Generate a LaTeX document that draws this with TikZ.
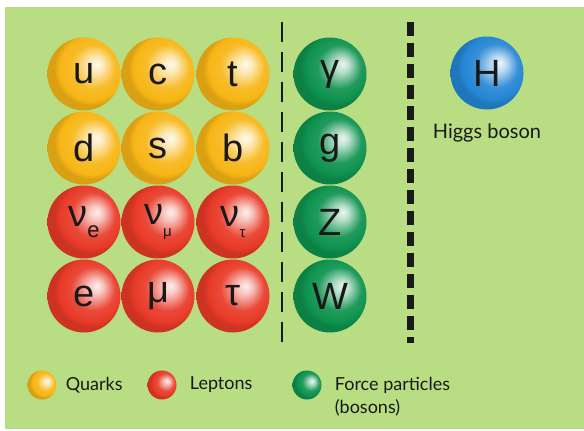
\documentclass[tikz,border=0pt]{standalone}
\usepackage{fontspec}
\setmainfont{Liberation Sans}
\newfontfamily\legendfont{Lato}
\usepackage{xcolor}
\usepackage{tikz}
\usetikzlibrary{positioning}
\definecolor{smGreenBg}{RGB}{185,221,130}
\definecolor{smQuark}{RGB}{247,182,22}
\definecolor{smLepton}{RGB}{232,58,40}
\definecolor{smForce}{RGB}{14,146,78}
\definecolor{smHiggs}{RGB}{36,134,212}
\definecolor{smInk}{RGB}{25,25,25}
\colorlet{ballc}{smQuark}
\pgfdeclareradialshading[ballc]{sphereshade}{\pgfpoint{9bp}{7bp}}{%
  color(0bp)=(ballc!8!white); color(5bp)=(ballc!30!white);
  color(15bp)=(ballc!92!white); color(22bp)=(ballc);
  color(25bp)=(ballc!88!black); color(50bp)=(ballc!88!black)}
\tikzset{
  sphere/.style={circle, inner sep=0pt, minimum size=73pt,
    /utils/exec={\colorlet{ballc}{#1}}, shading=sphereshade,
    text=smInk, font=\fontsize{38}{38}\selectfont},
  legball/.style={sphere=#1, minimum size=29pt},
  legtext/.style={text=smInk, inner sep=0pt, font=\legendfont\fontsize{18}{18}\selectfont},
}

\begin{document}
\begin{tikzpicture}[x=1pt,y=-1pt]
    \useasboundingbox (0,0) rectangle (584,431);
    \fill[white] (0,0) rectangle (584,431);
    \fill[smGreenBg] (5,7) rectangle (584,429);

    % quarks
    \node[sphere=smQuark] (u) at (84,74) {u};
    \node[sphere=smQuark] (c) at (158,74) {c};
    \node[sphere=smQuark] (t) at (233,74) {t};
    \node[sphere=smQuark] (d) at (84,148) {d};
    \node[sphere=smQuark] (s) at (158,148) {s};
    \node[sphere=smQuark] (b) at (233,148) {b};

    % leptons
    \node[sphere=smLepton] (nue) at (84,222) {ν\raisebox{-0.3em}{\fontsize{22}{22}\selectfont e}};
    \node[sphere=smLepton] (numu) at (158,222) {ν\raisebox{-0.3em}{\fontsize{15}{15}\selectfont μ}};
    \node[sphere=smLepton] (nutau) at (233,222) {ν\raisebox{-0.3em}{\fontsize{15}{15}\selectfont τ}};
    \node[sphere=smLepton] (e) at (84,296) {e};
    \node[sphere=smLepton] (mu) at (158,296) {μ};
    \node[sphere=smLepton] (tau) at (233,296) {τ};

    \draw[smInk, line width=1.6pt, dash pattern=on 20pt off 10pt] (282,22)--(282,345);

    % force carriers
    \node[sphere=smForce] (gamma) at (330,74) {γ};
    \node[sphere=smForce] (g) at (330,148) {g};
    \node[sphere=smForce] (Z) at (330,222) {Z};
    \node[sphere=smForce] (W) at (330,296) {W};

    \draw[smInk, line width=7pt, dash pattern=on 14pt off 7pt] (410,22)--(410,343);

    \node[sphere=smHiggs] (H) at (487,73) {H};
    \node[legtext, font=\legendfont\fontsize{20}{20}\selectfont, below=14pt of H] (higgslbl) {Higgs boson};

    % legend
    \node[legball=smQuark] (lgquark) at (42,385) {};
    \node[legtext, right=9pt of lgquark] (lgquarktxt) {Quarks};
    \node[legball=smLepton] (lglepton) at (162,385) {};
    \node[legtext, right=13pt of lglepton] (lgleptontxt) {Leptons};
    \node[legball=smForce] (lgforce) at (307,385) {};
    \node[legtext, right=13pt of lgforce] (lgforcetxt) {Force particles};
    \node[legtext, below=6pt of lgforcetxt.south west, anchor=north west] (lgbosontxt) {(bosons)};
\end{tikzpicture}
\end{document}
